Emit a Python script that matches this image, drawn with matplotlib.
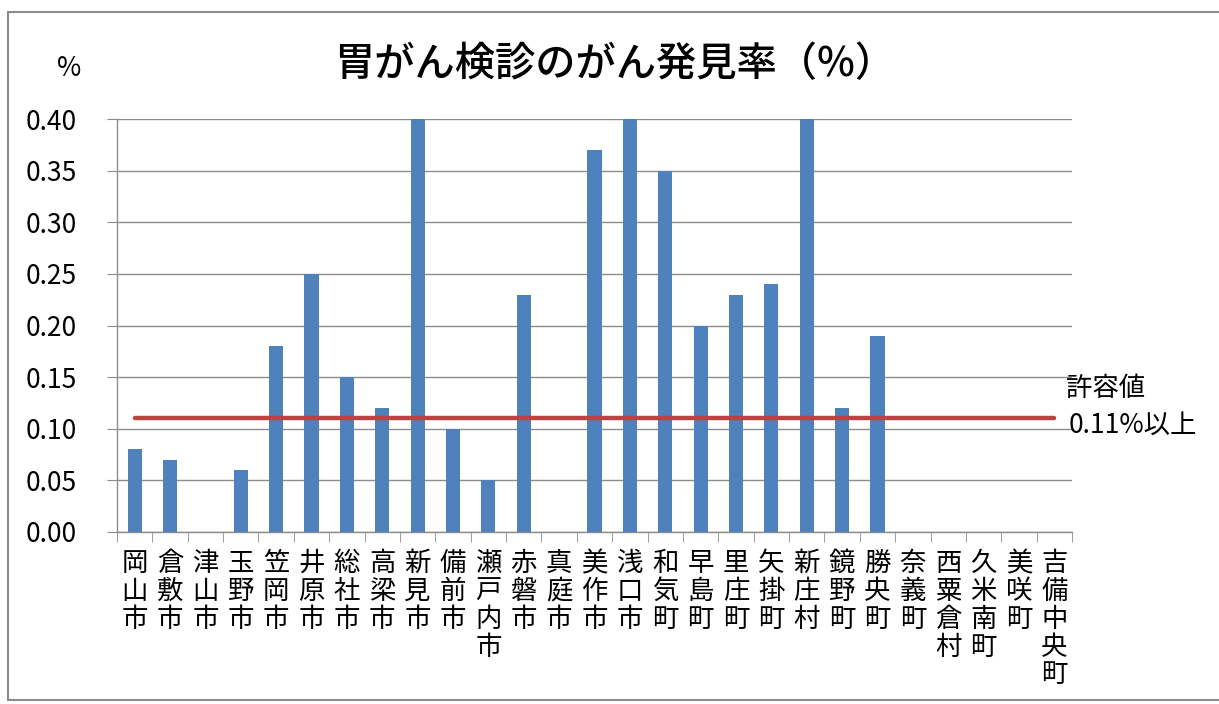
import numpy as np
import matplotlib
matplotlib.use("Agg")
import matplotlib.pyplot as plt
from matplotlib.lines import Line2D

plt.rcParams["font.family"] = ["Noto Sans CJK JP", "DejaVu Sans"]

# 市町村と胃がん検診のがん発見率(%)  (0.40 を超える棒はグラフ上端で切れている)
towns = ["岡山市", "倉敷市", "津山市", "玉野市", "笠岡市", "井原市", "総社市",
         "高梁市", "新見市", "備前市", "瀬戸内市", "赤磐市", "真庭市", "美作市",
         "浅口市", "和気町", "早島町", "里庄町", "矢掛町", "新庄村", "鏡野町",
         "勝央町", "奈義町", "西粟倉村", "久米南町", "美咲町", "吉備中央町"]
rates = [0.08, 0.07, 0.0, 0.06, 0.18, 0.25, 0.15,
         0.12, 0.40, 0.10, 0.05, 0.23, 0.0, 0.37,
         0.40, 0.35, 0.20, 0.23, 0.24, 0.40, 0.12,
         0.19, 0.0, 0.0, 0.0, 0.0, 0.0]
threshold = 0.11
yticks = [0.00, 0.05, 0.10, 0.15, 0.20, 0.25, 0.30, 0.35, 0.40]

fig = plt.figure(figsize=(12.19, 7.04), dpi=100)
ax = fig.add_axes([117 / 1219, 1 - 532 / 704, (1072 - 117) / 1219, (532 - 119) / 704])

x = np.arange(len(towns))
ax.bar(x, rates, width=0.4, color="#4F81BD", zorder=3)
ax.plot([x[0], x[-1]], [threshold, threshold], color="#B94442", lw=3.2,
        solid_capstyle="round", zorder=4)

ax.set_xlim(-0.5, len(towns) - 0.5)
ax.set_ylim(0, 0.40)
ax.set_yticks(yticks)
ax.set_yticklabels([f"{v:.2f}" for v in yticks], fontsize=19)
ax.grid(axis="y", color="#8C8C8C", lw=1.0, zorder=0)

ax.set_xticks(x)
ax.set_xticklabels(["\n".join(t) for t in towns], fontsize=19, va="top",
                   linespacing=1.04)
ax.set_xticks(np.arange(len(towns) + 1) - 0.5, minor=True)
ax.tick_params(axis="x", which="major", length=0, pad=13)
ax.tick_params(axis="x", which="minor", length=7, color="#8C8C8C", direction="out")
ax.tick_params(axis="y", length=7, color="#8C8C8C", pad=22)

for side in ["top", "right"]:
    ax.spines[side].set_visible(False)
for side in ["left", "bottom"]:
    ax.spines[side].set_color("#8C8C8C")
    ax.spines[side].set_linewidth(1.0)

fig.text(615 / 1219, 1 - 65 / 704, "胃がん検診のがん発見率（%）", fontsize=29,
         ha="center", va="center", fontweight="medium")
fig.text(69 / 1219, 1 - 69 / 704, "%", fontsize=19, ha="center", va="center")
fig.text(1066 / 1219, 1 - 388 / 704, "許容値", fontsize=19, ha="left", va="center")
fig.text(1069 / 1219, 1 - 425 / 704, "0.11%以上", fontsize=19, ha="left", va="center")

# グラフ外枠
frame = dict(transform=fig.transFigure, color="#8C8C8C", lw=1.5)
fig.add_artist(Line2D([8 / 1219, 1.0], [1 - 12 / 704] * 2, **frame))
fig.add_artist(Line2D([8 / 1219] * 2, [1 - 12 / 704, 1 - 700 / 704], **frame))
fig.add_artist(Line2D([8 / 1219, 1.0], [1 - 700 / 704] * 2, **frame))

fig.savefig("out.png", dpi=100)
